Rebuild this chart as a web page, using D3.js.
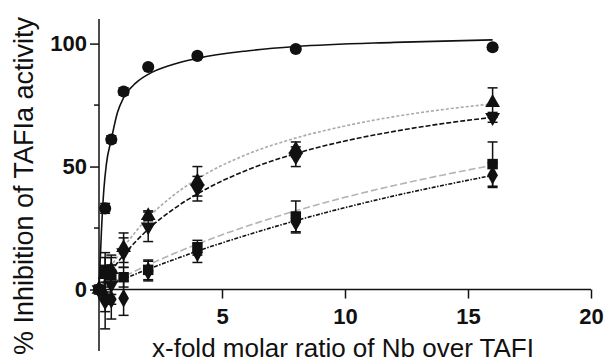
<!DOCTYPE html>
<html>
<head>
<meta charset="utf-8">
<script src="https://cdn.jsdelivr.net/npm/d3@7"></script>
<style>
  body { margin: 0; background: #fff; }
  svg { display: block; font-family: Arial, "Liberation Sans", sans-serif; }
</style>
</head>
<body>
<svg id="chart" width="604" height="362"></svg>
<script>
// measured points (x-fold molar ratio)
const ratios = [0, 0.25, 0.5, 1, 2, 4, 8, 16];

const circleY   = [0, 33, 61, 80.5, 90.5, 95, 97.8, 98.5];
const circleErr = [0, 2, 1.5, 1.5, 1, 1, 1, 1];
const triUpY    = [0, 6, 8, 17, 30, 44, 57, 76];
const triUpErr  = [0, 7, 5, 6, 2, 6, 3, 6];
const triDownY  = [0, -5, 2, 15, 25.5, 41, 54, 70];
const triDownErr= [0, 11, 8, 6, 6, 5, 4, 2];
const squareY   = [0, 8, 6, 5, 8, 17, 29.5, 51];
const squareErr = [0, 7, 8, 4, 4, 3, 6.5, 9];
const diamondY  = [0, -3, -4, -3.5, 7.5, 15, 27.5, 46.5];
const diamondErr= [0, 6, 8, 7, 4, 4, 4, 5];

// fitted curves
const fitCircleX = [0, 0.1, 0.2, 0.3, 0.5, 0.75, 1, 1.5, 2, 3, 4, 6, 8, 12, 16];
const fitCircleY = [0, 24, 41, 51, 61, 72, 78, 84, 87.5, 91.5, 94, 97, 98.8, 100.5, 101.5];
const fitX        = [0, 0.5, 1, 2, 3, 4, 6, 8, 10, 12, 14, 16];
const fitTriUpY   = [0, 9.4, 17.1, 29.2, 38.1, 45.0, 54.9, 61.6, 66.5, 70.3, 73.2, 75.5];
const fitTriDownY = [0, 7.6, 14.0, 24.5, 32.5, 38.9, 48.5, 55.3, 60.4, 64.3, 67.5, 70.0];
const fitSquareY  = [0, 2.7, 5.2, 10.0, 14.4, 18.5, 25.7, 32.0, 37.5, 42.3, 46.6, 50.5];
const fitDiamondY = [0, 2.2, 4.3, 8.3, 12.0, 15.6, 22.1, 28.0, 33.3, 38.1, 42.4, 46.4];

const xTicks = [5, 10, 15, 20];
const yTicks = [0, 50, 100];
const yMinorTicks = [25, 75];

const svg = d3.select("#chart");
const xScale = d3.scaleLinear().domain([0, 20]).range([99, 591]);
const yScale = d3.scaleLinear().domain([-25, 110]).range([351, 19]);

// y axis
const yAxis = d3.axisLeft(yScale).tickValues(yTicks).tickSize(9).tickPadding(3).tickFormat(d3.format("d"));
const yAxisG = svg.append("g").attr("transform", `translate(${xScale(0)},0)`).call(yAxis);
yAxisG.select(".domain").attr("d", `M0,${yScale(-25)}V${yScale(110)}`)
  .attr("stroke", "#111").attr("stroke-width", 1.5);
yAxisG.selectAll(".tick line").attr("stroke", "#111").attr("stroke-width", 1.5);
yAxisG.selectAll(".tick text").attr("font-size", 22).attr("font-weight", "bold").attr("fill", "#111")
  .attr("font-family", "Arial, 'Liberation Sans', sans-serif");
yAxisG.selectAll(".minor").data(yMinorTicks).enter().append("line")
  .attr("x1", -5).attr("x2", 0)
  .attr("y1", d => yScale(d)).attr("y2", d => yScale(d))
  .attr("stroke", "#111").attr("stroke-width", 1.5);

// x axis along y = 0
const xAxis = d3.axisBottom(xScale).tickValues(xTicks).tickSize(9).tickPadding(10).tickFormat(d3.format("d"));
const xAxisG = svg.append("g").attr("transform", `translate(0,${yScale(0)})`).call(xAxis);
xAxisG.select(".domain").attr("d", `M${xScale(0)},0H${xScale(20)}`).attr("stroke", "#111").attr("stroke-width", 1.5);
xAxisG.selectAll(".tick line").attr("stroke", "#111").attr("stroke-width", 1.5);
xAxisG.selectAll(".tick text").attr("font-size", 22).attr("font-weight", "bold").attr("fill", "#111")
  .attr("font-family", "Arial, 'Liberation Sans', sans-serif");

// titles
svg.append("text")
  .attr("transform", `translate(33,186) rotate(-90)`)
  .attr("text-anchor", "middle")
  .attr("font-size", 27)
  .attr("fill", "#111")
  .text("% Inhibition of TAFIa activity");

svg.append("text")
  .attr("x", 343).attr("y", 357)
  .attr("text-anchor", "middle")
  .attr("font-size", 26)
  .attr("fill", "#111")
  .text("x-fold molar ratio of Nb over TAFI");

// fit lines
const line = d3.line().x(d => xScale(d[0])).y(d => yScale(d[1])).curve(d3.curveMonotoneX);
const fits = [
  { xs: fitX, ys: fitSquareY, color: "#b4b4b4", dash: "7,3" },
  { xs: fitX, ys: fitTriUpY, color: "#aaaaaa", dash: "3,2" },
  { xs: fitX, ys: fitDiamondY, color: "#111", dash: "4,1.5,1.5,1.5" },
  { xs: fitX, ys: fitTriDownY, color: "#111", dash: "5,2" },
  { xs: fitCircleX, ys: fitCircleY, color: "#111", dash: null }
];
fits.forEach(f => {
  svg.append("path")
    .datum(f.xs.map((x, i) => [x, f.ys[i]]))
    .attr("fill", "none")
    .attr("stroke", f.color)
    .attr("stroke-width", 1.6)
    .attr("stroke-dasharray", f.dash)
    .attr("d", line);
});

// error bars + markers
const series = [
  { ys: squareY, err: squareErr, shape: d3.symbolSquare, size: 110 },
  { ys: diamondY, err: diamondErr, shape: d3.symbolDiamond, size: 100 },
  { ys: triUpY, err: triUpErr, shape: d3.symbolTriangle, size: 95, rot: 0 },
  { ys: triDownY, err: triDownErr, shape: d3.symbolTriangle, size: 95, rot: 180 },
  { ys: circleY, err: circleErr, shape: d3.symbolCircle, size: 115 }
];

series.forEach(s => {
  const pts = ratios.map((x, i) => ({ x, y: s.ys[i], e: s.err[i] }));
  const eb = svg.append("g").attr("stroke", "#111").attr("stroke-width", 1.5);
  pts.filter(d => d.e > 0).forEach(d => {
    const cx = xScale(d.x), y1 = yScale(d.y - d.e), y2 = yScale(d.y + d.e);
    eb.append("line").attr("x1", cx).attr("x2", cx).attr("y1", y1).attr("y2", y2);
    eb.append("line").attr("x1", cx - 5).attr("x2", cx + 5).attr("y1", y1).attr("y2", y1);
    eb.append("line").attr("x1", cx - 5).attr("x2", cx + 5).attr("y1", y2).attr("y2", y2);
  });
  svg.append("g").selectAll("path").data(pts).enter().append("path")
    .attr("d", d3.symbol().type(s.shape).size(s.size))
    .attr("transform", d => `translate(${xScale(d.x)},${yScale(d.y)}) rotate(${s.rot || 0})`)
    .attr("fill", "#111");
});
</script>
</body>
</html>
